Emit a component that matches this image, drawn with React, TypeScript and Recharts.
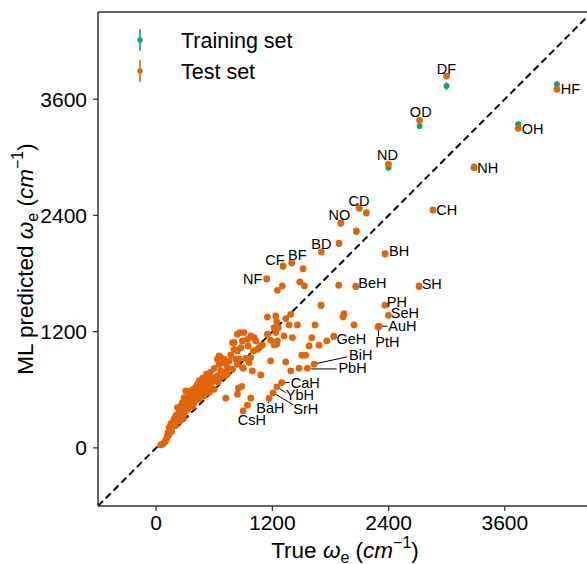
import React from 'react';
import { ScatterChart, Scatter, XAxis, YAxis, ReferenceLine, ErrorBar, Legend } from 'recharts';

const FONT = '"Liberation Sans", Arial, Helvetica, sans-serif';
const TRAIN_COLOR = '#1b9e77';
const TEST_COLOR = '#e2650a';
const AXIS_COLOR = '#333333';

const axisDomain: [number, number] = [-600, 4500];
const axisTicks = [0, 1200, 2400, 3600];

// Test set: [true ωe, ML predicted ωe]
const testPoints: [number, number][] = [
  [2998, 3839], [2720, 3382], [4138, 3702], [3738, 3299], [2399, 2928], [3282, 2893], [2858, 2456],
  [2095, 2480], [1906, 2325], [1889, 2113], [2363, 2005], [1311, 1878], [1400, 1912], [1142, 1747],
  [2061, 1669], [2714, 1672], [2363, 1473], [2397, 1369], [2301, 1256], [2290, 1248], [1834, 1153],
  [1631, 864], [1561, 822], [1297, 674], [1246, 630], [1207, 568], [1166, 513], [898, 382],
  [2170, 2428], [2067, 2239], [1706, 2023], [1517, 1850], [1303, 1672], [1252, 1627], [1483, 1713],
  [1531, 1672], [1885, 1679], [1703, 1473], [1940, 1386], [1930, 1352], [2043, 1269], [1641, 1269],
  [1682, 1060], [1579, 1053], [1607, 1138], [1504, 957], [1545, 957], [1762, 1104], [1476, 822],
  [1390, 795], [1338, 887], [1407, 1139], [1321, 1156], [1183, 898], [1080, 753], [994, 795], [901, 822],
  [1149, 1352], [1235, 1362], [1245, 1304], [1390, 1379], [1338, 1335], [1373, 1269], [1459, 1269],
  [1149, 1173], [1245, 1070], [1183, 1111], [1252, 1104], [1218, 1242], [1262, 1242], [1235, 1190],
  [1218, 1063], [1097, 1063],
  [839, 1173], [867, 1190], [908, 1190], [805, 1087], [788, 1087], [891, 1104], [943, 1121], [977, 1156],
  [1011, 1139], [1029, 1104], [1063, 1035], [1080, 1053], [1046, 1018], [1004, 1001], [949, 1053],
  [874, 1035], [839, 1001], [805, 1018], [857, 915], [822, 915], [753, 898], [719, 881], [667, 932],
  [633, 915], [650, 949], [702, 915], [771, 960], [736, 829], [788, 812], [839, 863], [891, 829],
  [960, 881], [925, 925], [977, 932],
  [667, 795], [719, 788], [633, 743], [581, 726], [530, 709], [495, 691], [547, 674], [599, 691],
  [650, 709], [702, 743], [736, 760], [564, 623], [513, 605], [461, 588], [427, 554], [392, 537],
  [478, 657], [409, 623], [358, 588], [375, 502], [323, 485], [306, 588], [289, 519], [272, 468],
  [255, 433], [220, 416], [237, 368], [203, 334], [186, 299], [169, 265], [151, 248], [134, 210],
  [124, 158], [117, 124], [100, 79], [48, 31], [323, 416], [358, 451], [392, 468], [444, 502],
  [495, 537], [547, 571], [599, 605], [444, 691], [427, 657], [341, 537],
  [719, 513], [839, 554], [850, 616], [884, 636], [943, 440], [977, 513],
  [260, 330], [280, 300], [300, 420], [350, 460], [380, 600], [420, 560], [450, 640], [480, 720],
  [520, 760], [560, 780], [600, 820], [650, 860], [700, 880], [230, 350], [200, 280], [170, 220],
  [150, 190], [140, 160], [110, 100], [90, 60], [70, 40],
  [180, 250], [210, 300], [250, 380], [270, 400], [300, 380], [320, 450], [340, 480], [360, 520],
  [400, 500], [420, 520], [460, 540], [480, 600], [520, 640], [540, 600], [560, 660], [580, 700],
  [620, 700], [640, 680], [300, 460], [240, 320], [200, 230], [160, 170], [130, 130], [250, 280],
  [290, 350], [330, 400], [380, 430], [410, 560], [470, 620], [500, 580],
];

// Training set: [true ωe, ML predicted ωe]
const trainPoints: [number, number][] = [
  [2998, 3736], [2720, 3323], [4138, 3753], [3738, 3340], [2399, 2893], [3282, 2905], [2858, 2450],
  [2101, 2470], [1906, 2315], [1889, 2105], [1311, 1870], [1142, 1738], [2714, 1662], [2363, 1996],
  [1400, 1904], [2301, 1246], [2061, 1660], [1834, 1145], [1703, 1465], [2170, 2420], [2067, 2230],
];
const trainErr = [38, 32, 34, 30, 30, 28, 26, 26, 26, 26, 24, 24, 24, 24, 24, 22, 22, 22, 22, 24, 24];

// Annotations: molecule name, text anchor point (data units), text alignment
const labelNames = ['DF', 'OD', 'HF', 'OH', 'ND', 'NH', 'CH', 'CD', 'NO', 'BD', 'BH', 'CF', 'BF', 'NF',
  'BeH', 'SH', 'PH', 'SeH', 'AuH', 'PtH', 'GeH', 'BiH', 'PbH', 'CaH', 'YbH', 'SrH', 'BaH', 'CsH'];
const labelAt: [number, number][] = [
  [2998, 3916], [2732, 3470], [4177, 3710], [3774, 3297], [2389, 3029], [3316, 2890], [2893, 2459],
  [2095, 2549], [1892, 2401], [1706, 2107], [2405, 2033], [1226, 1938], [1458, 1994], [1097, 1741],
  [2088, 1698], [2742, 1689], [2381, 1512], [2422, 1396], [2397, 1254], [2387, 1096], [1861, 1130],
  [1992, 958], [1882, 829], [1390, 674], [1338, 549], [1417, 399], [1180, 411], [989, 287],
];
const labelAlign = ['middle', 'middle', 'start', 'start', 'middle', 'start', 'start', 'middle', 'middle',
  'middle', 'start', 'middle', 'middle', 'end', 'start', 'start', 'start', 'start', 'start', 'middle',
  'start', 'start', 'start', 'start', 'start', 'start', 'middle', 'middle'];

// Leader lines (data units)
const leaders: [number, number, number, number][] = [
  [2312, 1256, 2388, 1256],
  [2296, 1225, 2296, 1150],
  [1660, 872, 1975, 940],
  [1600, 815, 1865, 815],
  [1321, 674, 1380, 674],
  [1262, 620, 1338, 571],
  [1228, 557, 1417, 444],
  [1166, 495, 1156, 462],
];

const testData = testPoints.map(([x, y]) => ({ x, y }));
const trainData = trainPoints.map(([x, y], i) => ({ x, y, err: trainErr[i] }));
const labelData = labelNames.map((name, i) => ({ name, x: labelAt[i][0], y: labelAt[i][1], anchor: labelAlign[i] }));

const legendItems = [
  { label: 'Training set', color: TRAIN_COLOR },
  { label: 'Test set', color: TEST_COLOR },
];

const renderLegend = () => (
  <svg width={300} height={90} style={{ display: 'block' }}>
    {legendItems.map((it, i) => {
      const cy = 40 + i * 31;
      return (
        <g key={it.label}>
          <line x1={140} x2={140} y1={cy - 11} y2={cy + 11} stroke={it.color} strokeWidth={1.6} />
          <circle cx={140} cy={cy} r={2.7} fill={it.color} />
          <text x={181} y={cy + 7.5} fontSize={21.5} fontFamily={FONT} fill="#000">{it.label}</text>
        </g>
      );
    })}
  </svg>
);

const TITLE_SIZE = 22.5;
const SUB_SIZE = 16;

const XTitle = (props: any) => {
  const vb = props.viewBox || { x: 98, y: 506, width: 494, height: 58 };
  const cx = vb.x + vb.width / 2;
  const by = vb.y + 52;
  return (
    <text x={cx} y={by} textAnchor="middle" fontSize={TITLE_SIZE} fontFamily={FONT} fill="#000">
      True <tspan fontStyle="italic">ω</tspan>
      <tspan dy={5} fontSize={SUB_SIZE}>e</tspan>
      <tspan dy={-5}> (</tspan>
      <tspan fontStyle="italic">cm</tspan>
      <tspan dy={-10} fontSize={SUB_SIZE}>−1</tspan>
      <tspan dy={10}>)</tspan>
    </text>
  );
};

const YTitle = (props: any) => {
  const vb = props.viewBox || { x: 0, y: 12, width: 98, height: 494 };
  const cx = vb.x + 33;
  const cy = vb.y + vb.height / 2;
  return (
    <text x={cx} y={cy} textAnchor="middle" fontSize={TITLE_SIZE} fontFamily={FONT} fill="#000"
      transform={`rotate(-90, ${cx}, ${cy})`}>
      ML predicted <tspan fontStyle="italic">ω</tspan>
      <tspan dy={5} fontSize={SUB_SIZE}>e</tspan>
      <tspan dy={-5}> (</tspan>
      <tspan fontStyle="italic">cm</tspan>
      <tspan dy={-10} fontSize={SUB_SIZE}>−1</tspan>
      <tspan dy={10}>)</tspan>
    </text>
  );
};

const tickStyle = { fill: '#000', fontSize: 21, fontFamily: FONT };

export default function App() {
  return (
    <div style={{ position: 'absolute', left: 0, top: 0, width: 587, height: 564, overflow: 'hidden', background: '#fff' }}>
      <ScatterChart width={600} height={564} margin={{ top: 12, right: 8, bottom: 0, left: 0 }}>
        <XAxis type="number" dataKey="x" domain={axisDomain} ticks={axisTicks} allowDataOverflow
          tick={tickStyle} tickSize={5} tickMargin={4}
          tickLine={{ stroke: AXIS_COLOR, strokeWidth: 1.3 }} axisLine={{ stroke: AXIS_COLOR, strokeWidth: 1.5 }}
          height={58} label={(p: any) => <XTitle {...p} />} />
        <YAxis type="number" dataKey="y" domain={axisDomain} ticks={axisTicks} allowDataOverflow
          tick={tickStyle} tickSize={5} tickMargin={6}
          tickLine={{ stroke: AXIS_COLOR, strokeWidth: 1.3 }} axisLine={{ stroke: AXIS_COLOR, strokeWidth: 1.5 }}
          width={98} label={(p: any) => <YTitle {...p} />} />
        <ReferenceLine y={4500} stroke={AXIS_COLOR} strokeWidth={1.5} />
        <ReferenceLine x={4500} stroke={AXIS_COLOR} strokeWidth={1.5} />
        <ReferenceLine segment={[{ x: -600, y: -600 }, { x: 4500, y: 4500 }]} stroke="#000" strokeWidth={2} strokeDasharray="7 4" />
        {leaders.map((l, i) => (
          <ReferenceLine key={'ld' + i} segment={[{ x: l[0], y: l[1] }, { x: l[2], y: l[3] }]} stroke="#000" strokeWidth={1} />
        ))}
        <Legend layout="vertical" align="center" verticalAlign="middle" content={renderLegend}
          wrapperStyle={{ left: 0, top: 0, width: 300, height: 90 }} />
        <Scatter name="Training set" data={trainData} isAnimationActive={false}
          shape={(p: any) => <circle cx={p.cx} cy={p.cy} r={3} fill={TRAIN_COLOR} />}>
          <ErrorBar dataKey="err" direction="y" width={0} stroke={TRAIN_COLOR} strokeWidth={1.6} />
        </Scatter>
        <Scatter name="Test set" data={testData} isAnimationActive={false}
          shape={(p: any) => <circle cx={p.cx} cy={p.cy} r={3.4} fill={TEST_COLOR} />} />
        <Scatter name="labels" data={labelData} isAnimationActive={false} legendType="none"
          shape={(p: any) => (
            <text x={p.cx} y={p.cy} dy="0.35em" textAnchor={p.payload?.anchor || 'start'}
              fontSize={14.5} fontFamily={FONT} fill="#000">{p.payload?.name}</text>
          )} />
      </ScatterChart>
    </div>
  );
}
